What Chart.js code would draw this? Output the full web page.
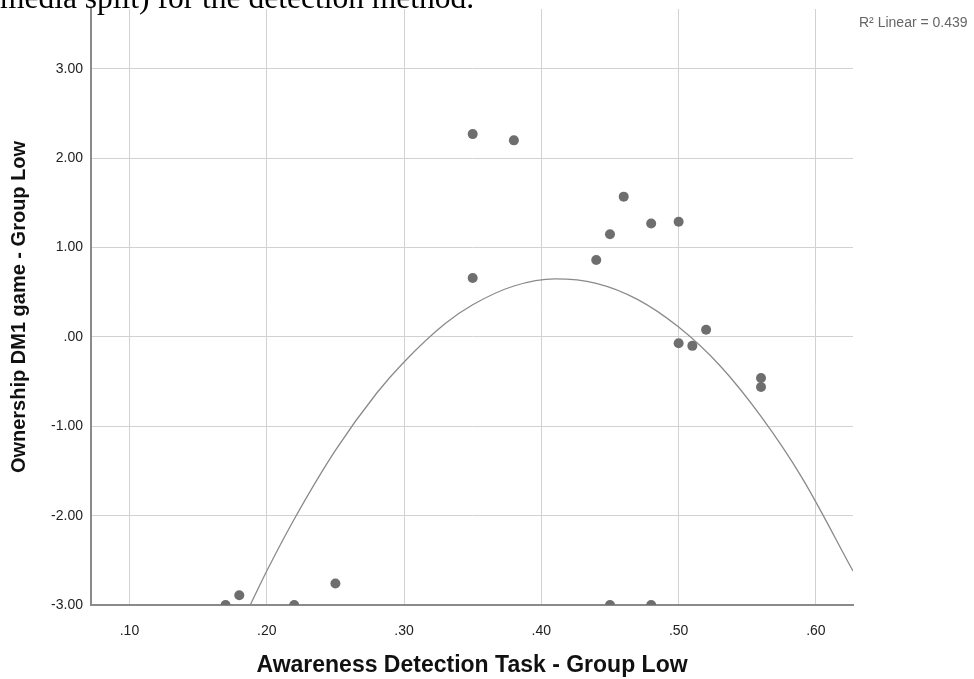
<!DOCTYPE html>
<html>
<head>
<meta charset="utf-8">
<title>Ownership vs Awareness - Group Low</title>
<script src="https://cdn.jsdelivr.net/npm/chart.js"></script>
<style>
  html, body { margin: 0; padding: 0; background: #fff; overflow: hidden; }
  #wrap { position: relative; width: 974px; height: 679px; }
  #chart { position: absolute; left: 0; top: 0; }
  #caption {
    position: absolute; left: 0; top: -18px; white-space: nowrap;
    font: 31.5px/31.5px "Liberation Serif", "Times New Roman", serif; color: #000;
  }
</style>
</head>
<body>
<div id="wrap">
  <canvas id="chart" width="974" height="679"></canvas>
  <div id="caption">media split) for the detection method.</div>
</div>
<script>
// scatter values (awareness score, ownership score)
const awareness = [0.17, 0.18, 0.22, 0.25, 0.35, 0.35, 0.38, 0.44, 0.45, 0.45, 0.46, 0.48, 0.48, 0.50, 0.50, 0.51, 0.52, 0.56, 0.56];
const ownership = [-3.00, -2.89, -3.00, -2.76, 2.27, 0.66, 2.20, 0.86, 1.15, -3.00, 1.57, 1.27, -3.00, 1.29, -0.07, -0.10, 0.08, -0.46, -0.56];

// fit line, sampled along x
const fitX = [0.188, 0.20, 0.22, 0.25, 0.28, 0.30, 0.33, 0.35, 0.38, 0.41, 0.44, 0.47, 0.50, 0.53, 0.56, 0.59, 0.627];
const fitY = [-3.00, -2.62, -2.04, -1.27, -0.63, -0.28, 0.15, 0.36, 0.57, 0.65, 0.60, 0.42, 0.11, -0.32, -0.89, -1.58, -2.62];

const xTicks = [0.10, 0.20, 0.30, 0.40, 0.50, 0.60];
const yTicks = [-3, -2, -1, 0, 1, 2, 3];
const fitLabel = 'R\u00B2 Linear = 0.439';

// SPSS style labels: ".10", ".00", "-1.00"
const fmt = v => v.toFixed(2).replace(/^(-?)0\./, '$1.');

const fitLabelPlugin = {
  id: 'fitLabel',
  afterDraw(chart) {
    const ctx = chart.ctx;
    ctx.save();
    ctx.font = '14px "Liberation Sans", Arial, sans-serif';
    ctx.fillStyle = '#666';
    ctx.textBaseline = 'middle';
    ctx.textAlign = 'left';
    ctx.fillText(fitLabel, chart.chartArea.right + 6, 23);
    ctx.restore();
  }
};

const tickFont = { family: '"Liberation Sans", Arial, sans-serif', size: 14 };
const yTitleFont = { family: '"Liberation Sans", Arial, sans-serif', size: 20, weight: 'bold' };
const xTitleFont = { family: '"Liberation Sans", Arial, sans-serif', size: 23, weight: 'bold' };

new Chart(document.getElementById('chart'), {
  type: 'scatter',
  data: {
    datasets: [
      {
        label: 'points',
        data: awareness.map((x, i) => ({ x, y: ownership[i] })),
        pointRadius: 5,
        pointHoverRadius: 5,
        pointBackgroundColor: '#6e6e6e',
        pointBorderWidth: 0,
        order: 1
      },
      {
        label: 'fit',
        data: fitX.map((x, i) => ({ x, y: fitY[i] })),
        showLine: true,
        pointRadius: 0,
        borderColor: '#8a8a8a',
        borderWidth: 1.3,
        cubicInterpolationMode: 'monotone',
        order: 2
      }
    ]
  },
  options: {
    responsive: false,
    animation: false,
    events: [],
    layout: { padding: { top: 9, right: 121, left: 0, bottom: 0 } },
    plugins: { legend: { display: false }, tooltip: { enabled: false } },
    scales: {
      x: {
        type: 'linear',
        min: 0.072,
        max: 0.627,
        afterBuildTicks: s => { s.ticks = xTicks.map(v => ({ value: v })); },
        afterFit: s => { s.height = 74; s.paddingLeft = 0; s.paddingRight = 0; },
        ticks: { callback: v => fmt(v), font: tickFont, color: '#222', padding: 18, maxRotation: 0 },
        grid: { color: '#d2d2d2', lineWidth: 1, drawTicks: false },
        border: { color: '#8a8a8a', width: 2 },
        title: { display: true, text: 'Awareness Detection Task - Group Low', font: xTitleFont, color: '#111', padding: { bottom: 0 } }
      },
      y: {
        type: 'linear',
        min: -3,
        max: 3.67,
        afterBuildTicks: s => { s.ticks = yTicks.map(v => ({ value: v })); },
        afterFit: s => { s.width = 91; s.paddingTop = 0; s.paddingBottom = 0; },
        ticks: { callback: v => fmt(v), font: tickFont, color: '#222', padding: 8 },
        grid: { color: '#d2d2d2', lineWidth: 1, drawTicks: false },
        border: { color: '#8a8a8a', width: 2 },
        title: { display: true, text: 'Ownership DM1 game - Group Low', font: yTitleFont, color: '#111', padding: { top: 7 } }
      }
    }
  },
  plugins: [fitLabelPlugin]
});
</script>
</body>
</html>
